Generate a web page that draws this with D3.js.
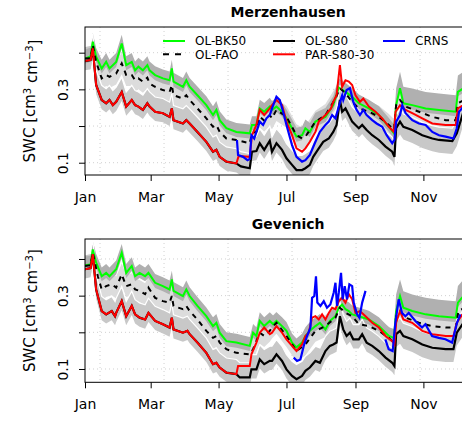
<!DOCTYPE html>
<meta charset="utf-8">
<head>
<style>
  body { margin: 0; background: #fff; }
  text { font-family: "DejaVu Sans", sans-serif; fill: #000; }
  .grid line { stroke: #d0d0d0; stroke-dasharray: 1,3; }
</style>
<script src="https://cdn.jsdelivr.net/npm/d3@7"></script>
</head>
<body></body>
<script>

// ---- data: [day of year (days since 1 Jan), SWC] ----
var monthTicks = ["Jan", "Mar", "May", "Jul", "Sep", "Nov"];
var yTicks = [0.1, 0.2, 0.3, 0.4];
var yLabelled = [0.1, 0.3];
var gridDays = [13.5, 71, 128.5, 186, 243.5, 301, 358.5];

// Merzenhausen
var merzBK50 = [[0,0.384],[5,0.39],[7,0.43],[10,0.389],[15,0.357],[19,0.375],[22,0.357],[28,0.375],[33,0.425],[37,0.366],[42,0.375],[45,0.352],[48,0.362],[52,0.352],[56,0.366],[58,0.352],[63,0.339],[70,0.330],[76,0.325],[78,0.357],[79.5,0.321],[88,0.307],[91,0.325],[94,0.307],[101,0.284],[109,0.257],[115,0.230],[118,0.244],[121,0.216],[127,0.194],[136,0.184],[148,0.180],[150,0.203],[154,0.203],[157,0.248],[161,0.239],[166,0.253],[168,0.244],[172,0.253],[177,0.239],[181,0.221],[186,0.194],[190,0.171],[195,0.175],[198,0.194],[202,0.184],[207,0.212],[216,0.225],[223,0.257],[228,0.305],[234,0.293],[240,0.280],[246,0.262],[255,0.248],[264,0.230],[273,0.198],[277.5,0.180],[279.5,0.257],[283,0.303],[286,0.262],[294,0.257],[306,0.248],[318,0.244],[333,0.239],[335,0.293],[340,0.303]];
var merzFAO = [[0,0.384],[5,0.385],[7,0.421],[10,0.375],[15,0.330],[19,0.339],[22,0.334],[28,0.343],[33,0.371],[37,0.339],[42,0.339],[45,0.325],[48,0.330],[52,0.321],[56,0.332],[58,0.316],[63,0.307],[70,0.298],[76,0.293],[78,0.312],[79.5,0.284],[88,0.275],[91,0.284],[94,0.271],[101,0.248],[109,0.221],[115,0.198],[118,0.203],[121,0.184],[127,0.166],[136,0.162],[148,0.153],[150,0.18],[154,0.185],[157,0.225],[161,0.215],[166,0.23],[168,0.221],[172,0.244],[181,0.225],[190,0.175],[195,0.166],[198,0.171],[207,0.212],[216,0.230],[225,0.275],[229,0.303],[234,0.289],[240,0.266],[246,0.248],[255,0.239],[264,0.225],[273,0.203],[277.5,0.189],[279.5,0.257],[283,0.271],[288,0.253],[300,0.239],[312,0.225],[324,0.216],[333,0.216],[335,0.262],[340,0.27]];
// OL-S80 and PAR-S80-30 are identical until the CRNS record starts
var merzEarly = [[0,0.377],[5,0.38],[7,0.412],[10,0.312],[15,0.271],[19,0.262],[22,0.271],[25,0.257],[28,0.266],[33,0.293],[37,0.253],[42,0.271],[45,0.257],[48,0.253],[52,0.244],[56,0.262],[58,0.253],[63,0.239],[70,0.235],[76,0.225],[78,0.248],[79.5,0.216],[88,0.207],[91,0.216],[94,0.207],[101,0.184],[109,0.157],[115,0.130],[118,0.135],[121,0.116],[127,0.103],[136,0.098]];
var merzS80 = merzEarly.concat([[140,0.09],[148,0.085],[150,0.13],[154,0.132],[157,0.153],[161,0.135],[166,0.16],[168,0.130],[172,0.153],[177,0.135],[181,0.112],[186,0.094],[190,0.080],[195,0.080],[198,0.085],[202,0.094],[205,0.116],[210,0.139],[214,0.157],[219,0.166],[223,0.184],[226,0.203],[229,0.271],[231,0.239],[234,0.248],[237,0.230],[240,0.212],[243,0.203],[246,0.194],[249,0.203],[253,0.189],[258,0.175],[264,0.162],[270,0.144],[276,0.130],[278,0.116],[279.5,0.194],[283,0.212],[286,0.198],[294,0.189],[303,0.175],[312,0.166],[318,0.162],[330,0.159],[334,0.18],[340,0.239]]);
var merzPAR = merzEarly.concat([[138,0.118],[148,0.116],[150,0.175],[154,0.203],[157,0.244],[161,0.230],[166,0.248],[168,0.257],[172,0.271],[177,0.257],[181,0.212],[186,0.175],[190,0.139],[195,0.130],[198,0.139],[202,0.157],[207,0.184],[210,0.212],[216,0.230],[221,0.248],[223,0.266],[226,0.284],[229,0.366],[231,0.307],[234,0.325],[237,0.321],[240,0.312],[243,0.284],[247,0.266],[250,0.275],[255,0.253],[261,0.239],[267,0.221],[273,0.198],[277.5,0.184],[279,0.239],[283,0.257],[288,0.244],[294,0.235],[303,0.221],[312,0.207],[324,0.203],[333,0.203],[335,0.248],[340,0.257]]);
var merzCRNS = [[136.5,0.162],[137.5,0.121],[142,0.116],[146,0.107],[148,0.110],[149.5,0.175],[152,0.166],[154,0.184],[157,0.212],[160,0.203],[163,0.221],[166,0.230],[168,0.248],[172,0.280],[175,0.271],[178,0.239],[181,0.203],[186,0.148],[190,0.116],[195,0.103],[198,0.107],[202,0.121],[207,0.157],[211,0.184],[216,0.203],[219,0.212],[222,0.230],[225,0.221],[228,0.253],[231,0.284],[232,0.271],[235,0.298],[238,0.303],[241,0.266],[244,0.244],[247,0.230],[250,0.244],[253,0.230],[258,0.216],[262,0.207],[267,0.198],[271,0.175],[276,0.153],[278,0.162],[279.5,0.212],[283,0.230],[285,0.257],[288,0.235],[294,0.216],[300,0.207],[306,0.203],[312,0.184],[318,0.175],[324,0.171],[331,0.166],[334,0.194],[336,0.239],[340,0.253]];

// Gevenich
var gevBK50 = [[0,0.383],[5,0.385],[7,0.426],[10,0.390],[15,0.353],[19,0.362],[22,0.353],[28,0.372],[33,0.417],[37,0.362],[42,0.381],[45,0.353],[49,0.362],[54,0.353],[57,0.362],[63,0.335],[70,0.326],[76,0.317],[78,0.344],[79.5,0.313],[88,0.299],[91,0.317],[94,0.299],[101,0.272],[109,0.244],[115,0.217],[118,0.226],[121,0.199],[127,0.176],[136,0.172],[148,0.163],[151,0.199],[154,0.190],[157,0.231],[161,0.217],[166,0.231],[169,0.222],[172,0.231],[177,0.217],[181,0.204],[186,0.172],[190,0.159],[195,0.172],[198,0.190],[202,0.204],[207,0.217],[211,0.226],[216,0.208],[220,0.231],[225,0.244],[228,0.267],[231,0.276],[234,0.263],[237,0.258],[240,0.249],[246,0.244],[255,0.235],[264,0.217],[273,0.190],[277.5,0.185],[279.5,0.258],[283,0.299],[286,0.267],[294,0.258],[306,0.249],[318,0.244],[333,0.240],[335,0.281],[340,0.299]];
var gevFAO = [[0,0.381],[5,0.383],[7,0.417],[11.5,0.353],[15,0.317],[19,0.326],[24,0.331],[28,0.322],[33,0.358],[37,0.326],[42,0.331],[45,0.317],[49,0.313],[54,0.304],[57,0.322],[63,0.294],[70,0.285],[76,0.281],[78,0.299],[79.5,0.272],[88,0.263],[91,0.272],[94,0.258],[101,0.235],[109,0.204],[115,0.185],[118,0.190],[121,0.172],[127,0.154],[136,0.144],[148,0.140],[151,0.154],[157,0.199],[161,0.190],[166,0.204],[168,0.213],[172,0.226],[181,0.190],[190,0.149],[198,0.167],[207,0.204],[216,0.217],[225,0.240],[229,0.267],[234,0.253],[240,0.244],[246,0.222],[255,0.217],[264,0.204],[273,0.185],[277.5,0.172],[279.5,0.244],[283,0.258],[288,0.240],[300,0.226],[312,0.217],[324,0.213],[333,0.213],[335.5,0.258],[340,0.265]];
var gevEarly = [[0,0.372],[5,0.375],[7,0.413],[10,0.317],[15,0.258],[19,0.249],[24,0.258],[27,0.244],[28,0.253],[33,0.285],[37,0.244],[42,0.272],[45,0.249],[49,0.240],[54,0.235],[57,0.253],[63,0.231],[70,0.222],[76,0.213],[78,0.240],[79.5,0.208],[88,0.199],[92,0.204],[94,0.195],[101,0.172],[109,0.144],[115,0.113],[118,0.117],[121,0.104],[127,0.090],[136,0.086]];
var gevS80 = gevEarly.concat([[139,0.077],[148,0.077],[149.5,0.099],[154,0.099],[157,0.126],[161,0.113],[166,0.122],[168,0.122],[172,0.140],[177,0.122],[181,0.099],[186,0.081],[190,0.072],[195,0.081],[198,0.095],[202,0.104],[207,0.122],[211,0.117],[216,0.149],[220,0.163],[223,0.167],[226,0.172],[229,0.244],[232,0.208],[235,0.190],[238,0.199],[241,0.181],[246,0.181],[249,0.195],[253,0.172],[258,0.163],[264,0.149],[270,0.131],[276,0.117],[278,0.108],[279.5,0.195],[283,0.204],[286,0.190],[294,0.181],[303,0.167],[312,0.158],[324,0.154],[331,0.154],[334,0.199],[340,0.226]]);
var gevPAR = gevEarly.concat([[137.5,0.108],[148,0.108],[149.5,0.140],[154,0.172],[157,0.199],[161,0.213],[166,0.195],[168,0.199],[172,0.217],[177,0.199],[181,0.181],[186,0.163],[190,0.149],[195,0.167],[198,0.190],[201,0.199],[204,0.240],[207,0.244],[210,0.235],[213,0.249],[216,0.235],[219,0.253],[222,0.267],[225,0.263],[228,0.285],[231,0.294],[234,0.281],[237,0.304],[240,0.290],[243,0.253],[247,0.258],[252,0.244],[258,0.226],[264,0.213],[270,0.190],[276,0.176],[278,0.167],[279.5,0.226],[283,0.258],[286,0.235],[294,0.226],[303,0.204],[312,0.195],[324,0.190],[331,0.190],[334,0.226],[339,0.249]]);
var gevCRNS = [[187.5,0.131],[190.5,0.122],[193.5,0.126],[196.5,0.163],[199.5,0.190],[202.5,0.213],[204,0.294],[206,0.299],[207.5,0.353],[208.7,0.281],[211.5,0.272],[214.5,0.285],[217.4,0.267],[220.4,0.276],[223.4,0.308],[225,0.335],[226.4,0.272],[228,0.308],[230,0.362],[231.5,0.290],[233.3,0.326],[235.4,0.290],[237.5,0.331],[240,0.326],[241.4,0.281],[244.4,0.249],[246.5,0.240],[249,0.281],[252,0.313],[260,null],[269.8,0.181],[272.8,0.154],[276.4,0.149],[278.8,0.226],[281.8,0.290],[284.8,0.253],[287.8,0.244],[290.8,0.253],[296.8,0.231],[302.8,0.213],[305.8,0.222],[311.8,0.190],[317.8,0.185],[323.8,0.181],[329.8,0.172],[334.2,0.226],[337.2,0.249]];

// ensemble spread of the open loop runs: [from day, below, above]
var spreadBK50 = [[0, -0.014, 0.024], [279.5, -0.012, 0.045]];
var spreadFAO = [[0, -0.03, 0.03], [279.5, -0.04, 0.03]];
var spreadS80 = [[0, -0.025, 0.04], [279.5, -0.035, 0.035]];

// ---- layout ----
var width = 462, height = 426,
    left = 85, right = 491.3;

var t0 = Date.UTC(2015, 0, 1);
function toDate(d) { return new Date(t0 + d * 864e5); }

var x = d3.scaleUtc()
  .domain([toDate(0), toDate(365)])
  .range([left, right]);

var panels = [
  {title: "Merzenhausen", top: 27, bottom: 175, yDomain: [0.0665, 0.47], legend: true,
   bk50: merzBK50, fao: merzFAO, s80: merzS80, par: merzPAR, crns: merzCRNS},
  {title: "Gevenich", top: 239, bottom: 382.3, yDomain: [0.0637, 0.4545], legend: false,
   bk50: gevBK50, fao: gevFAO, s80: gevS80, par: gevPAR, crns: gevCRNS}
];

var svg = d3.select("body").append("svg")
  .attr("width", width)
  .attr("height", height);

function spreadAt(spread, day) {
  var s = spread[0];
  spread.forEach(function(d) { if (day >= d[0]) s = d; });
  return s;
}

panels.forEach(function(p, pi) {
  var y = d3.scaleLinear().domain(p.yDomain).range([p.bottom, p.top]);
  var g = svg.append("g");

  g.append("clipPath").attr("id", "clip" + pi)
    .append("rect")
      .attr("x", left).attr("y", p.top)
      .attr("width", right - left).attr("height", p.bottom - p.top);

  // grid
  var grid = g.append("g").attr("class", "grid");
  grid.selectAll(".gx").data(gridDays).enter().append("line")
    .attr("x1", function(d) { return x(toDate(d)); })
    .attr("x2", function(d) { return x(toDate(d)); })
    .attr("y1", p.top).attr("y2", p.bottom);
  grid.selectAll(".gy").data(yTicks).enter().append("line")
    .attr("x1", left).attr("x2", right)
    .attr("y1", function(d) { return y(d); })
    .attr("y2", function(d) { return y(d); });

  var plot = g.append("g").attr("clip-path", "url(#clip" + pi + ")");

  function band(data, spread) {
    return d3.area()
      .x(function(d) { return x(toDate(d[0])); })
      .y0(function(d) { return y(d[1] + spreadAt(spread, d[0])[1]); })
      .y1(function(d) { return y(d[1] + spreadAt(spread, d[0])[2]); })(data);
  }
  var line = d3.line()
    .defined(function(d) { return d[1] != null; })
    .x(function(d) { return x(toDate(d[0])); })
    .y(function(d) { return y(d[1]); });
  var edge = d3.line()
    .x(function(d) { return x(toDate(d[0])); })
    .y(function(d) { return y(d[1] + spreadAt(spreadS80, d[0])[2]); });

  plot.append("path").attr("d", band(p.fao, spreadFAO)).attr("fill", "#dcdcdc");
  plot.append("path").attr("d", band(p.s80, spreadS80)).attr("fill", "#c8c8c8");
  plot.append("path").attr("d", band(p.bk50, spreadBK50)).attr("fill", "#b0b0b0");
  plot.append("path").attr("d", edge(p.s80))
    .attr("fill", "none").attr("stroke", "#fff").attr("stroke-width", 1.2);

  plot.append("path").attr("d", line(p.bk50))
    .attr("fill", "none").attr("stroke", "#00ff00").attr("stroke-width", 2);
  plot.append("path").attr("d", line(p.fao))
    .attr("fill", "none").attr("stroke", "#000").attr("stroke-width", 2)
    .attr("stroke-dasharray", "5,5");
  plot.append("path").attr("d", line(p.s80))
    .attr("fill", "none").attr("stroke", "#000").attr("stroke-width", 2.2);
  plot.append("path").attr("d", line(p.par))
    .attr("fill", "none").attr("stroke", "#ff0000").attr("stroke-width", 2);
  plot.append("path").attr("d", line(p.crns))
    .attr("fill", "none").attr("stroke", "#0000ff").attr("stroke-width", 2.2);

  // box
  g.append("rect")
    .attr("x", left).attr("y", p.top)
    .attr("width", right - left).attr("height", p.bottom - p.top)
    .attr("fill", "none").attr("stroke", "#000").attr("stroke-width", 1);

  // x axis
  var xAxis = g.append("g")
    .attr("transform", "translate(0," + p.bottom + ")")
    .call(d3.axisBottom(x)
      .tickValues(d3.utcMonth.every(2).range(toDate(0), toDate(365)))
      .tickFormat(function(d, i) { return monthTicks[i]; })
      .tickSize(6).tickPadding(11));
  xAxis.select(".domain").remove();
  xAxis.selectAll("text").style("font-size", "14px").style("font-family", "DejaVu Sans");

  // y axis
  var yAxis = g.append("g")
    .attr("transform", "translate(" + left + ",0)")
    .call(d3.axisLeft(y).tickValues(yTicks)
      .tickFormat(function(d) { return yLabelled.indexOf(d) >= 0 ? d3.format(".1f")(d) : ""; })
      .tickSize(6));
  yAxis.select(".domain").remove();
  yAxis.selectAll("text")
    .attr("x", 0).attr("y", -17).attr("dy", 0)
    .attr("transform", "rotate(-90)")
    .attr("text-anchor", "middle")
    .style("font-size", "14px").style("font-family", "DejaVu Sans");

  // y label
  var yl = g.append("text")
    .attr("transform", "translate(35," + (p.top + p.bottom) / 2 + ")rotate(-90)")
    .attr("text-anchor", "middle")
    .style("font-size", "15px");
  yl.append("tspan").text("SWC [cm");
  yl.append("tspan").attr("dy", "-0.45em").style("font-size", "10px").text("3");
  yl.append("tspan").attr("dy", "0.45em").text(" cm");
  yl.append("tspan").attr("dy", "-0.45em").style("font-size", "10px").text("\u22123");
  yl.append("tspan").attr("dy", "0.45em").text("]");

  // title
  g.append("text")
    .attr("x", (left + right) / 2).attr("y", p.top - 10)
    .attr("text-anchor", "middle")
    .style("font-size", "14px").style("font-weight", "bold")
    .text(p.title);

  if (p.legend) {
    var items = [
      {label: "OL-BK50", color: "#00ff00", col: 0, row: 0},
      {label: "OL-FAO", color: "#000", dash: "6,6", col: 0, row: 1},
      {label: "OL-S80", color: "#000", col: 1, row: 0},
      {label: "PAR-S80-30", color: "#ff0000", col: 1, row: 1},
      {label: "CRNS", color: "#0000ff", col: 2, row: 0}
    ];
    var lg = g.selectAll(".leg").data(items).enter().append("g")
      .attr("transform", function(d) { return "translate(" + (163 + d.col * 110) + "," + (41 + d.row * 13.3) + ")"; });
    lg.append("line")
      .attr("x1", 0).attr("x2", 22)
      .attr("stroke", function(d) { return d.color; })
      .attr("stroke-width", 2)
      .attr("stroke-dasharray", function(d) { return d.dash || null; });
    lg.append("text")
      .attr("x", 32).attr("dy", "0.35em")
      .style("font-size", "12px")
      .text(function(d) { return d.label; });
  }
});

</script>
